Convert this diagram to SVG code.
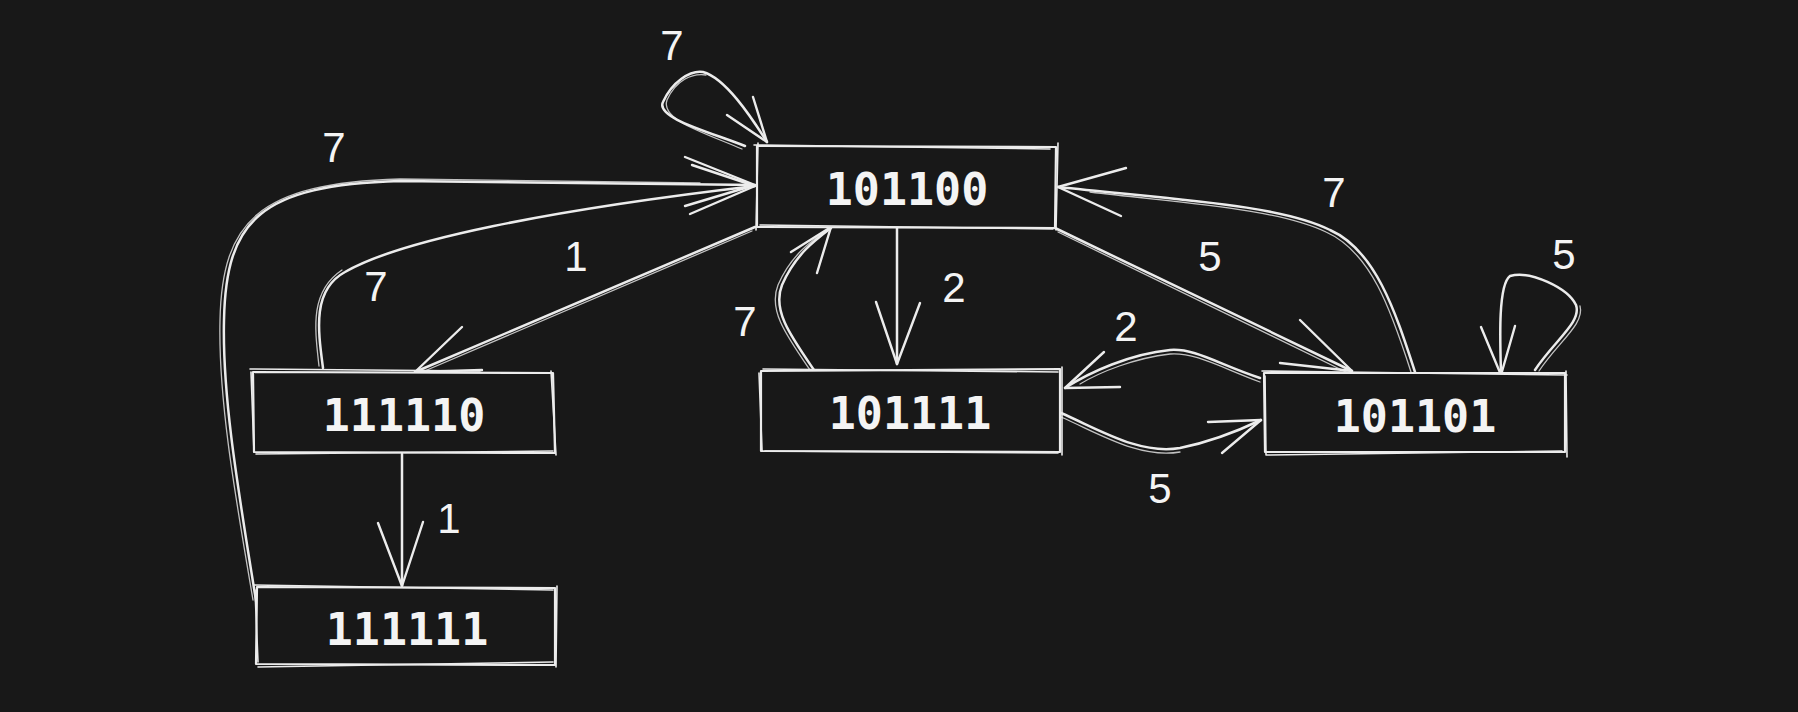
<svg xmlns="http://www.w3.org/2000/svg" width="1798" height="712" viewBox="0 0 1798 712">
<style>
.bg{fill:#181818}
.box{fill:#181818;stroke:#ececec;stroke-width:2.2;stroke-linecap:round;stroke-linejoin:round}
.sk{fill:none;stroke:#ececec;stroke-width:1.6;stroke-linecap:round}
.edge{fill:none;stroke:#ececec;stroke-width:2.5;stroke-linecap:round;stroke-linejoin:round}
.edge2{fill:none;stroke:#ececec;stroke-width:1.3;stroke-linecap:round;opacity:0.8}
.head{fill:none;stroke:#ececec;stroke-width:2.4;stroke-linecap:round;stroke-linejoin:round}
.nt{font-family:"DejaVu Sans Mono","Liberation Mono",monospace;font-size:45px;fill:#f4f4f4;text-anchor:middle;font-weight:bold}
.lb{font-family:"Liberation Sans","DejaVu Sans",sans-serif;font-size:42px;fill:#f4f4f4;text-anchor:middle}
</style>
<rect class="bg" x="0" y="0" width="1798" height="712"/>

<g id="connectors">
  <!-- self loop 101100 -->
  <path class="edge" d="M745,146 C710,132 655,118 663,102 C672,82 690,70 703,72 C725,78 750,115 767,142"/>
  <path class="edge2" d="M742,149 C705,133 660,120 667,100 C676,80 692,73 706,75"/>
  <path class="head" d="M727,115 L767,142 L753,97"/>
  <!-- 111111 -> 101100 -->
  <path class="edge" d="M257,607 C240,500 222,400 224,320 C226,220 260,185 400,181 L755,185"/>
  <path class="edge2" d="M253,600 C236,500 218,400 220,320 C222,222 258,183 400,179 L700,183"/>
  <!-- 111110 -> 101100 -->
  <path class="edge" d="M323,368 C318,330 312,290 345,272 C400,240 550,210 755,186"/>
  <path class="edge2" d="M319,366 C315,330 309,292 342,270"/>
  <path class="head" d="M685,157 L755,185 L685,206"/>
  <path class="head" d="M692,165 L755,186 L690,214"/>
  <!-- 101100 -> 111110 -->
  <path class="edge" d="M755,227 L415,372"/>
  <path class="edge2" d="M752,231 L420,373"/>
  <path class="head" d="M462,327 L415,372 L482,370"/>
  <!-- 111110 -> 111111 -->
  <path class="edge" d="M402,454 L402,586"/>
  <path class="head" d="M378,523 L402,586 L423,522"/>
  <!-- 101111 -> 101100 -->
  <path class="edge" d="M814,370 C790,335 772,310 782,285 C795,255 815,240 831,228"/>
  <path class="edge2" d="M810,370 C786,335 768,310 778,285 C791,255 812,240 828,230"/>
  <path class="head" d="M791,252 L831,227 L817,273"/>
  <!-- 101100 -> 101111 -->
  <path class="edge" d="M897,228 L897,364"/>
  <path class="head" d="M876,302 L897,364 L920,303"/>
  <!-- 101100 -> 101101 -->
  <path class="edge" d="M1055,228 L1352,371"/>
  <path class="edge2" d="M1058,232 L1350,374"/>
  <path class="head" d="M1300,320 L1352,371 L1280,363"/>
  <!-- 101101 -> 101100 -->
  <path class="edge" d="M1415,372 C1395,310 1375,250 1330,230 C1280,205 1180,200 1058,187"/>
  <path class="edge2" d="M1411,372 C1391,310 1371,252 1326,232 C1276,208 1180,203 1090,192"/>
  <path class="head" d="M1126,168 L1058,187 L1121,216"/>
  <!-- self loop 101101 -->
  <path class="edge" d="M1535,370 C1555,340 1582,322 1576,305 C1568,288 1530,270 1510,276 C1498,285 1500,340 1501,373"/>
  <path class="edge2" d="M1539,371 C1558,342 1585,324 1580,306"/>
  <path class="head" d="M1481,327 L1501,375 L1515,326"/>
  <!-- 101101 -> 101111 -->
  <path class="edge" d="M1260,378 C1220,365 1195,348 1170,350 C1130,354 1090,372 1065,388"/>
  <path class="edge2" d="M1260,382 C1222,368 1195,352 1170,354 C1135,358 1100,372 1080,384"/>
  <path class="head" d="M1104,352 L1065,388 L1120,387"/>
  <!-- 101111 -> 101101 -->
  <path class="edge" d="M1061,413 C1100,430 1140,455 1180,448 C1210,442 1240,430 1261,420"/>
  <path class="edge2" d="M1061,417 C1100,434 1140,459 1180,452"/>
  <path class="head" d="M1208,422 L1261,420 L1222,453"/>
</g>

<g id="labels">
  <text class="lb" x="672" y="60">7</text>
  <text class="lb" x="334" y="162">7</text>
  <text class="lb" x="376" y="301">7</text>
  <text class="lb" x="576" y="271">1</text>
  <text class="lb" x="745" y="336">7</text>
  <text class="lb" x="449" y="533">1</text>
  <text class="lb" x="954" y="302">2</text>
  <text class="lb" x="1210" y="271">5</text>
  <text class="lb" x="1334" y="207">7</text>
  <text class="lb" x="1564" y="269">5</text>
  <text class="lb" x="1126" y="341">2</text>
  <text class="lb" x="1160" y="503">5</text>
</g>

<g id="node-101100">
  <path class="box" d="M757,146 L1056,147 L1055,228 L757,227 Z"/>
  <path class="sk" d="M754,145 L1050,149 M1058,143 L1056,230 M1053,229 L760,225 M756,230 L758,143"/>
  <text class="nt" x="907" y="205">101100</text>
</g>
<g id="node-111110">
  <path class="box" d="M253,372 L553,373 L555,453 L254,452 Z"/>
  <path class="sk" d="M250,369 L480,371 M551,371 L556,455 M553,451 L256,454 M251,372 L254,452"/>
  <text class="nt" x="404" y="431">111110</text>
</g>
<g id="node-111111">
  <path class="box" d="M257,587 L555,588 L555,665 L256,664 Z"/>
  <path class="sk" d="M254,585 L553,590 M557,586 L556,667 M553,662 L258,667 M255,590 L258,662"/>
  <text class="nt" x="407" y="645">111111</text>
</g>
<g id="node-101111">
  <path class="box" d="M761,371 L1060,369 L1060,452 L761,451 Z"/>
  <path class="sk" d="M763,369 L1058,372 M1062,367 L1062,455 M1058,453 L765,451 M759,373 L762,450"/>
  <text class="nt" x="910" y="429">101111</text>
</g>
<g id="node-101101">
  <path class="box" d="M1264,373 L1565,373 L1565,452 L1265,452 Z"/>
  <path class="sk" d="M1262,371 L1567,375 M1566,371 L1567,457 M1562,451 L1266,455 M1265,376 L1266,455"/>
  <text class="nt" x="1415" y="432">101101</text>
</g>
</svg>
